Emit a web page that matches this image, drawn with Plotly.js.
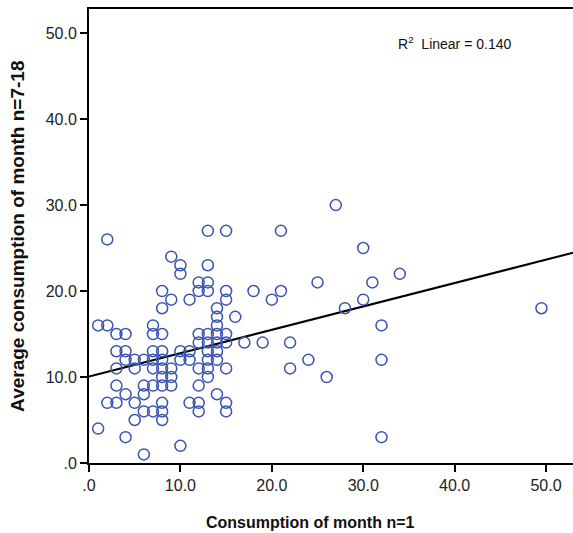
<!DOCTYPE html>
<html>
<head>
<meta charset="utf-8">
<script src="https://cdn.plot.ly/plotly-3.0.1.min.js"></script>
<style>html,body{margin:0;padding:0;background:#fff;}#chart{width:573px;height:533px;}</style>
</head>
<body>
<div id="chart"></div>
<script>
// Consumption of month n=1 (x) and average consumption of month n=7-18 (y)
const consumptionMonth1 = [
  1,1,
  2,2,2,
  3,3,3,3,3,
  4,4,4,4,4,
  5,5,5,5,
  6,6,6,6,6,
  7,7,7,7,7,7,7,
  8,8,8,8,8,8,8,8,8,8,8,
  9,9,9,9,9,
  10,10,10,10,10,
  11,11,11,11,
  12,12,12,12,12,12,12,12,
  13,13,13,13,13,13,13,13,13,13,
  14,14,14,14,14,14,14,14,
  15,15,15,15,15,15,15,15,
  16,17,18,19,20,
  21,21,22,22,24,25,26,27,28,30,30,31,
  32,32,32,34,49.5
];
const avgConsumption7to18 = [
  16,4,
  26,16,7,
  15,13,11,9,7,
  15,13,12,8,3,
  12,11,7,5,
  12,9,8,6,1,
  16,15,13,12,11,9,6,
  20,18,15,13,12,11,10,9,7,6,5,
  24,19,11,10,9,
  23,22,13,12,2,
  19,13,12,7,
  21,20,15,14,11,9,7,6,
  27,23,21,20,15,14,13,12,11,10,
  18,17,16,15,14,13,12,8,
  27,20,19,15,14,11,7,6,
  17,14,20,14,19,
  27,20,14,11,12,21,10,30,18,25,19,21,
  16,12,3,22,18
];
const fitIntercept = 10.05;
const fitSlope = 0.272;
const rSquaredLabel = "R<sup>2</sup>  Linear = 0.140";
const xTickValues = [0,10,20,30,40,50];
const xTickLabels = [".0","10.0","20.0","30.0","40.0","50.0"];
const yTickValues = [0,10,20,30,40,50];
const yTickLabels = [".0","10.0","20.0","30.0","40.0","50.0"];
const xTitle = "Consumption of month n=1";
const yTitle = "Average consumption of month n=7-18";

const xMax = 52.95, yMax = 52.8;
const fitX = [0, xMax];
const fitY = fitX.map(v => fitIntercept + fitSlope * v);

const font = "Liberation Sans, Arial, sans-serif";
const data = [
  {
    type: "scatter", mode: "lines", x: fitX, y: fitY,
    line: {color: "#000", width: 2}, hoverinfo: "skip", showlegend: false
  },
  {
    type: "scatter", mode: "markers", x: consumptionMonth1, y: avgConsumption7to18,
    marker: {symbol: "circle-open", size: 11, color: "#3a55b0", line: {width: 1.5, color: "#3a55b0"}},
    showlegend: false
  }
];
const layout = {
  width: 573, height: 533,
  margin: {l: 89, r: 0, t: 9, b: 70},
  paper_bgcolor: "#fff", plot_bgcolor: "#fff",
  font: {family: font, size: 16, color: "#222"},
  xaxis: {
    range: [0, xMax], showgrid: false, zeroline: false,
    showline: true, linecolor: "#000", linewidth: 2, mirror: true,
    ticks: "outside", ticklen: 7, tickwidth: 2, tickcolor: "#000",
    tickvals: xTickValues, ticktext: xTickLabels,
    tickfont: {family: font, size: 16, color: "#222"}
  },
  yaxis: {
    range: [0, yMax], showgrid: false, zeroline: false,
    showline: true, linecolor: "#000", linewidth: 2,
    ticks: "outside", ticklen: 7, tickwidth: 2, tickcolor: "#000",
    tickvals: yTickValues, ticktext: yTickLabels,
    tickfont: {family: font, size: 16, color: "#222"}
  },
  annotations: [
    {text: rSquaredLabel, xref: "paper", yref: "paper", x: 0.756, y: 0.926,
     xanchor: "center", yanchor: "middle", showarrow: false,
     font: {family: font, size: 14, color: "#111"}},
    {text: "<b>" + xTitle + "</b>", xref: "paper", yref: "paper", x: 0.458, y: -0.131,
     xanchor: "center", yanchor: "middle", showarrow: false,
     font: {family: font, size: 16, color: "#111"}},
    {text: "<b>" + yTitle + "</b>", xref: "paper", yref: "paper", x: -0.149, y: 0.5,
     xanchor: "center", yanchor: "middle", textangle: -90, showarrow: false,
     font: {family: font, size: 19, color: "#111"}}
  ]
};
Plotly.newPlot("chart", data, layout, {displayModeBar: false, staticPlot: true});
</script>
</body>
</html>
